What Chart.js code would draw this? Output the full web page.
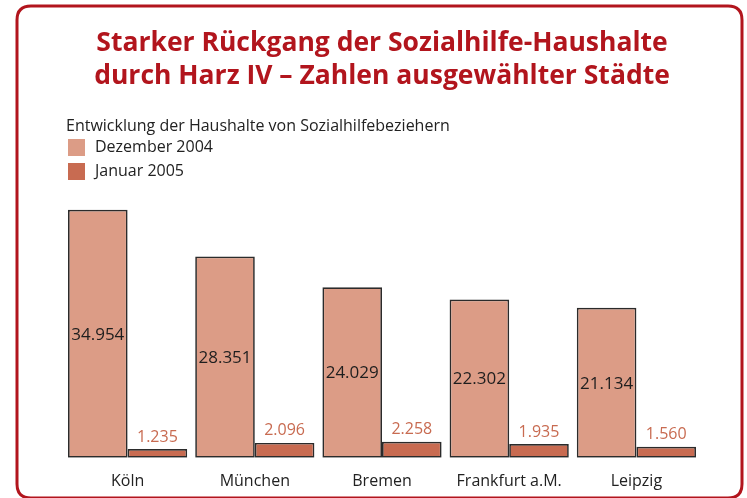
<!DOCTYPE html>
<html><head><meta charset="utf-8">
<script src="https://cdn.jsdelivr.net/npm/chart.js@4/dist/chart.umd.min.js"></script>
<style>html,body{margin:0;padding:0;background:#fff}#wrap{width:747px;height:498px;position:relative}</style>
</head><body><div id="wrap"><canvas id="c" width="747" height="498"></canvas></div>
<script>
const titleLines = ['Starker Rückgang der Sozialhilfe-Haushalte', 'durch Harz IV – Zahlen ausgewählter Städte'];
const legendHeader = 'Entwicklung der Haushalte von Sozialhilfebeziehern';
const categories = ['Köln', 'München', 'Bremen', 'Frankfurt a.M.', 'Leipzig'];
const seriesNames = ['Dezember 2004', 'Januar 2005'];
const dez2004 = [34954, 28351, 24029, 22302, 21134];
const jan2005 = [1235, 2096, 2258, 1935, 1560];

const FONT = '"Open Sans", "Noto Sans", sans-serif';
const RED = '#b2151d';
const C_DEZ = '#dc9c86';
const C_JAN = '#c86b51';

function fmt(v){ return String(v).replace(/\B(?=(\d{3})+(?!\d))/g, '.'); }

const framePlugin = {
  id: 'frame',
  beforeDraw(chart){
    const ctx = chart.ctx;
    ctx.save();
    ctx.strokeStyle = RED; ctx.lineWidth = 3;
    const x=17, y=6, w=725, h=492, r=14;
    ctx.beginPath();
    ctx.moveTo(x+r,y); ctx.lineTo(x+w-r,y); ctx.quadraticCurveTo(x+w,y,x+w,y+r);
    ctx.lineTo(x+w,y+h-r); ctx.quadraticCurveTo(x+w,y+h,x+w-r,y+h);
    ctx.lineTo(x+r,y+h); ctx.quadraticCurveTo(x,y+h,x,y+h-r);
    ctx.lineTo(x,y+r); ctx.quadraticCurveTo(x,y,x+r,y);
    ctx.stroke();
    ctx.restore();
  }
};

const legendPlugin = {
  id: 'customLegend',
  afterDraw(chart){
    const ctx = chart.ctx;
    ctx.save();
    ctx.font = '16px ' + FONT;
    ctx.fillStyle = '#222';
    ctx.textBaseline = 'middle';
    ctx.fillText(legendHeader, 66, 126);
    chart.data.datasets.forEach((ds, i) => {
      const cy = 147.5 + i*24;
      ctx.fillStyle = ds.backgroundColor;
      ctx.fillRect(68, cy-8.5, 17, 17);
      ctx.fillStyle = '#222';
      ctx.fillText(ds.label, 95, cy);
    });
    ctx.restore();
  }
};

const valuePlugin = {
  id: 'values',
  afterDatasetsDraw(chart){
    const ctx = chart.ctx;
    ctx.save();
    ctx.textAlign = 'center';
    chart.data.datasets.forEach((ds, di) => {
      const meta = chart.getDatasetMeta(di);
      meta.data.forEach((bar, i) => {
        const v = ds.data[i];
        if (di === 0) {
          ctx.font = '17px ' + FONT;
          ctx.fillStyle = '#1e1e1e';
          ctx.textBaseline = 'middle';
          ctx.fillText(fmt(v), bar.x, (bar.y + bar.base)/2 + 1);
        } else {
          ctx.font = '16px ' + FONT;
          ctx.fillStyle = C_JAN;
          ctx.textBaseline = 'bottom';
          ctx.fillText(fmt(v), bar.x, bar.y - 4);
        }
      });
    });
    ctx.restore();
  }
};

new Chart(document.getElementById('c'), {
  type: 'bar',
  data: {
    labels: categories,
    datasets: [
      { label: seriesNames[0], data: dez2004, backgroundColor: C_DEZ, borderColor: '#2b2b2b', borderWidth: 1.7, borderSkipped: false },
      { label: seriesNames[1], data: jan2005, backgroundColor: C_JAN, borderColor: '#2b2b2b', borderWidth: 1.7, borderSkipped: false }
    ]
  },
  options: {
    responsive: false,
    animation: false,
    devicePixelRatio: 1,
    layout: { padding: { left: 64, right: 47, top: 0, bottom: 1 } },
    categoryPercentage: 0.937,
    barPercentage: 1.0,
    plugins: {
      legend: { display: false },
      tooltip: { enabled: false },
      title: {
        display: true,
        text: titleLines,
        color: RED,
        font: { family: FONT, size: 26.5, weight: 'bold', lineHeight: 1.25 },
        padding: { top: 27, bottom: 109 }
      }
    },
    scales: {
      x: {
        grid: { display: false },
        border: { display: false },
        ticks: { color: '#222', font: { family: FONT, size: 16 }, padding: 6 }
      },
      y: {
        display: false,
        min: 0,
        max: 36000
      }
    }
  },
  plugins: [framePlugin, legendPlugin, valuePlugin]
});
</script></body></html>
